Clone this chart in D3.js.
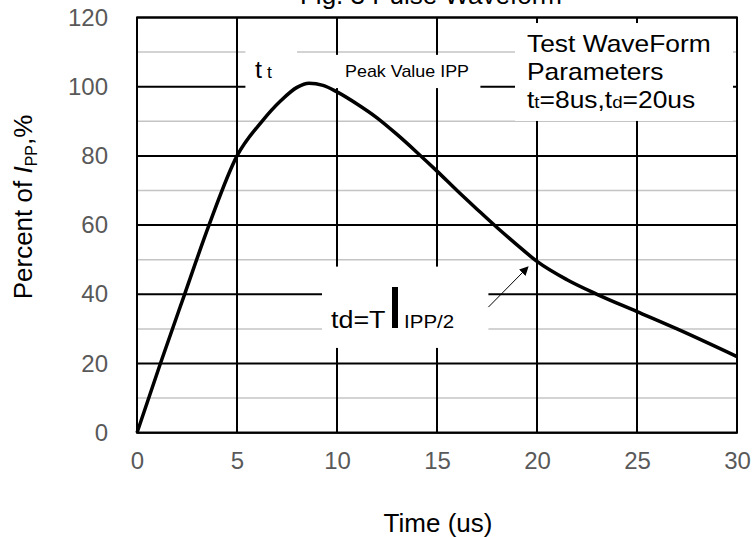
<!DOCTYPE html>
<html>
<head>
<meta charset="utf-8">
<script src="https://cdnjs.cloudflare.com/ajax/libs/d3/7.8.5/d3.min.js"></script>
<style>
  body { margin: 0; background: #fff; }
  svg { display: block; font-family: "Liberation Sans", Arial, sans-serif; }
</style>
</head>
<body>
<script>
// waveform
const timeUs = [0, 1.17, 2.38, 3.6, 5, 6.25, 7.2, 8.0, 8.6, 9.3, 10, 11, 12, 13, 14, 15, 16, 17, 18, 19, 20, 21.5, 23, 25, 27, 30];
const percentIpp = [0, 20, 40, 60, 80, 90, 96, 99.8, 101, 100.4, 98.5, 95, 91, 86.2, 81, 75.6, 70, 64.6, 59.3, 54.3, 49.5, 44.2, 40, 35, 30, 22];

const xTicks = [0, 5, 10, 15, 20, 25, 30];
const yTicks = [0, 20, 40, 60, 80, 100, 120];
const yMinor = [10, 30, 50, 70, 90, 110];

const width = 753;
const height = 537;

const svg = d3.select('body')
    .append('svg')
    .attr('width', width)
    .attr('height', height);

const xScale = d3.scaleLinear().domain([0, 30]).range([137, 737]);
const yScale = d3.scaleLinear().domain([0, 120]).range([432.7, 17.5]);

// grid
svg.selectAll('.minor')
    .data(yMinor)
    .enter()
    .append('line')
    .attr('x1', xScale(0)).attr('x2', xScale(30))
    .attr('y1', d => yScale(d)).attr('y2', d => yScale(d))
    .attr('stroke', '#c4c4c4')
    .attr('stroke-width', 1.5);

svg.selectAll('.hmajor')
    .data(yTicks)
    .enter()
    .append('line')
    .attr('x1', xScale(0)).attr('x2', xScale(30))
    .attr('y1', d => yScale(d)).attr('y2', d => yScale(d))
    .attr('stroke', '#000')
    .attr('stroke-width', 2);

svg.selectAll('.vmajor')
    .data(xTicks)
    .enter()
    .append('line')
    .attr('y1', yScale(0)).attr('y2', yScale(120))
    .attr('x1', d => xScale(d)).attr('x2', d => xScale(d))
    .attr('stroke', '#000')
    .attr('stroke-width', 2);

// white label backgrounds that hide the grid
const boxes = [
    [5.42, 112.3, 8.0, 99.6],
    [8.0, 109.2, 17.17, 99.6],
    [18.9, 118.4, 29.8, 90.1],
    [9.25, 48, 17.57, 24.5]
];
svg.selectAll('.box')
    .data(boxes)
    .enter()
    .append('rect')
    .attr('x', d => xScale(d[0]))
    .attr('y', d => yScale(d[1]))
    .attr('width', d => xScale(d[2]) - xScale(d[0]))
    .attr('height', d => yScale(d[3]) - yScale(d[1]))
    .attr('fill', '#fff');

svg.append('rect')
    .attr('x', xScale(0)).attr('y', yScale(120))
    .attr('width', xScale(30) - xScale(0))
    .attr('height', yScale(0) - yScale(120))
    .attr('fill', 'none')
    .attr('stroke', '#000')
    .attr('stroke-width', 2);

// axes (labels only)
const xAxis = d3.axisBottom(xScale).tickValues(xTicks).tickSize(0).tickPadding(19);
const yAxis = d3.axisLeft(yScale).tickValues(yTicks).tickSize(0).tickPadding(29);

const gx = svg.append('g')
    .attr('transform', 'translate(0,' + yScale(0) + ')')
    .call(xAxis);
const gy = svg.append('g')
    .attr('transform', 'translate(' + xScale(0) + ',0)')
    .call(yAxis);
[gx, gy].forEach(g => {
    g.select('.domain').remove();
    g.selectAll('text')
        .attr('fill', '#595959')
        .style('font-size', '24px')
        .style('font-family', '"Liberation Sans", Arial, sans-serif');
});

// the curve
const line = d3.line()
    .x((d, i) => xScale(timeUs[i]))
    .y(d => yScale(d))
    .curve(d3.curveMonotoneX);

svg.append('path')
    .datum(percentIpp)
    .attr('d', line)
    .attr('fill', 'none')
    .attr('stroke', '#000')
    .attr('stroke-width', 3.5)
    .attr('stroke-linejoin', 'round');

// titles
svg.append('text')
    .attr('x', 431).attr('y', 4)
    .attr('text-anchor', 'middle')
    .style('font-size', '26px')
    .text('Fig. 3 Pulse Waveform');

svg.append('text')
    .attr('x', 438).attr('y', 532)
    .attr('text-anchor', 'middle')
    .style('font-size', '26px')
    .text('Time (us)');

const yt = svg.append('text')
    .attr('transform', 'translate(32,207) rotate(-90)')
    .attr('text-anchor', 'middle')
    .style('font-size', '26px');
yt.append('tspan').text('Percent of ');
yt.append('tspan').style('font-style', 'italic').text('I');
yt.append('tspan').attr('dy', 5).style('font-size', '16px').text('PP');
yt.append('tspan').attr('dy', -5).text(',%');

// annotations; the source text is a little stretched sideways
function label(x, y, sx) {
    return svg.append('text')
        .attr('transform', 'translate(' + x + ',' + y + ') scale(' + sx + ',1)');
}

const tt = label(xScale(5.9), yScale(102.6), 1.1);
tt.append('tspan').style('font-size', '23px').text('t');
tt.append('tspan').style('font-size', '16px').text(' t');

label(xScale(10.4), yScale(102.9), 1.12)
    .style('font-size', '16px')
    .text('Peak Value IPP');

const params = [
    [{ t: 'Test WaveForm', s: 24 }],
    [{ t: 'Parameters', s: 24 }],
    [{ t: 't', s: 24 }, { t: 't', s: 17 }, { t: '=8us,', s: 24 }, { t: 't', s: 24 }, { t: 'd', s: 17 }, { t: '=20us', s: 24 }]
];
params.forEach((row, i) => {
    const txt = label(527, 51.7 + i * 28, 1.1);
    row.forEach(p => txt.append('tspan').style('font-size', p.s + 'px').text(p.t));
});

label(331, 328, 1.12)
    .style('font-size', '24px')
    .text('td=T');
svg.append('rect')
    .attr('x', 392).attr('y', 287)
    .attr('width', 6).attr('height', 41)
    .attr('fill', '#000');
label(404, 328, 1.08)
    .style('font-size', '19px')
    .text('IPP/2');

// arrow
svg.append('defs').append('marker')
    .attr('id', 'arr')
    .attr('viewBox', '0 0 10 10')
    .attr('refX', 9).attr('refY', 5)
    .attr('markerWidth', 9).attr('markerHeight', 9)
    .attr('markerUnits', 'userSpaceOnUse')
    .attr('orient', 'auto')
    .append('path')
    .attr('d', 'M0,0L10,5L0,10z')
    .attr('fill', '#000');

svg.append('line')
    .attr('x1', xScale(17.57)).attr('y1', yScale(36.3))
    .attr('x2', xScale(19.55)).attr('y2', yScale(47.9))
    .attr('stroke', '#000')
    .attr('stroke-width', 1)
    .attr('marker-end', 'url(#arr)');
</script>
</body>
</html>
